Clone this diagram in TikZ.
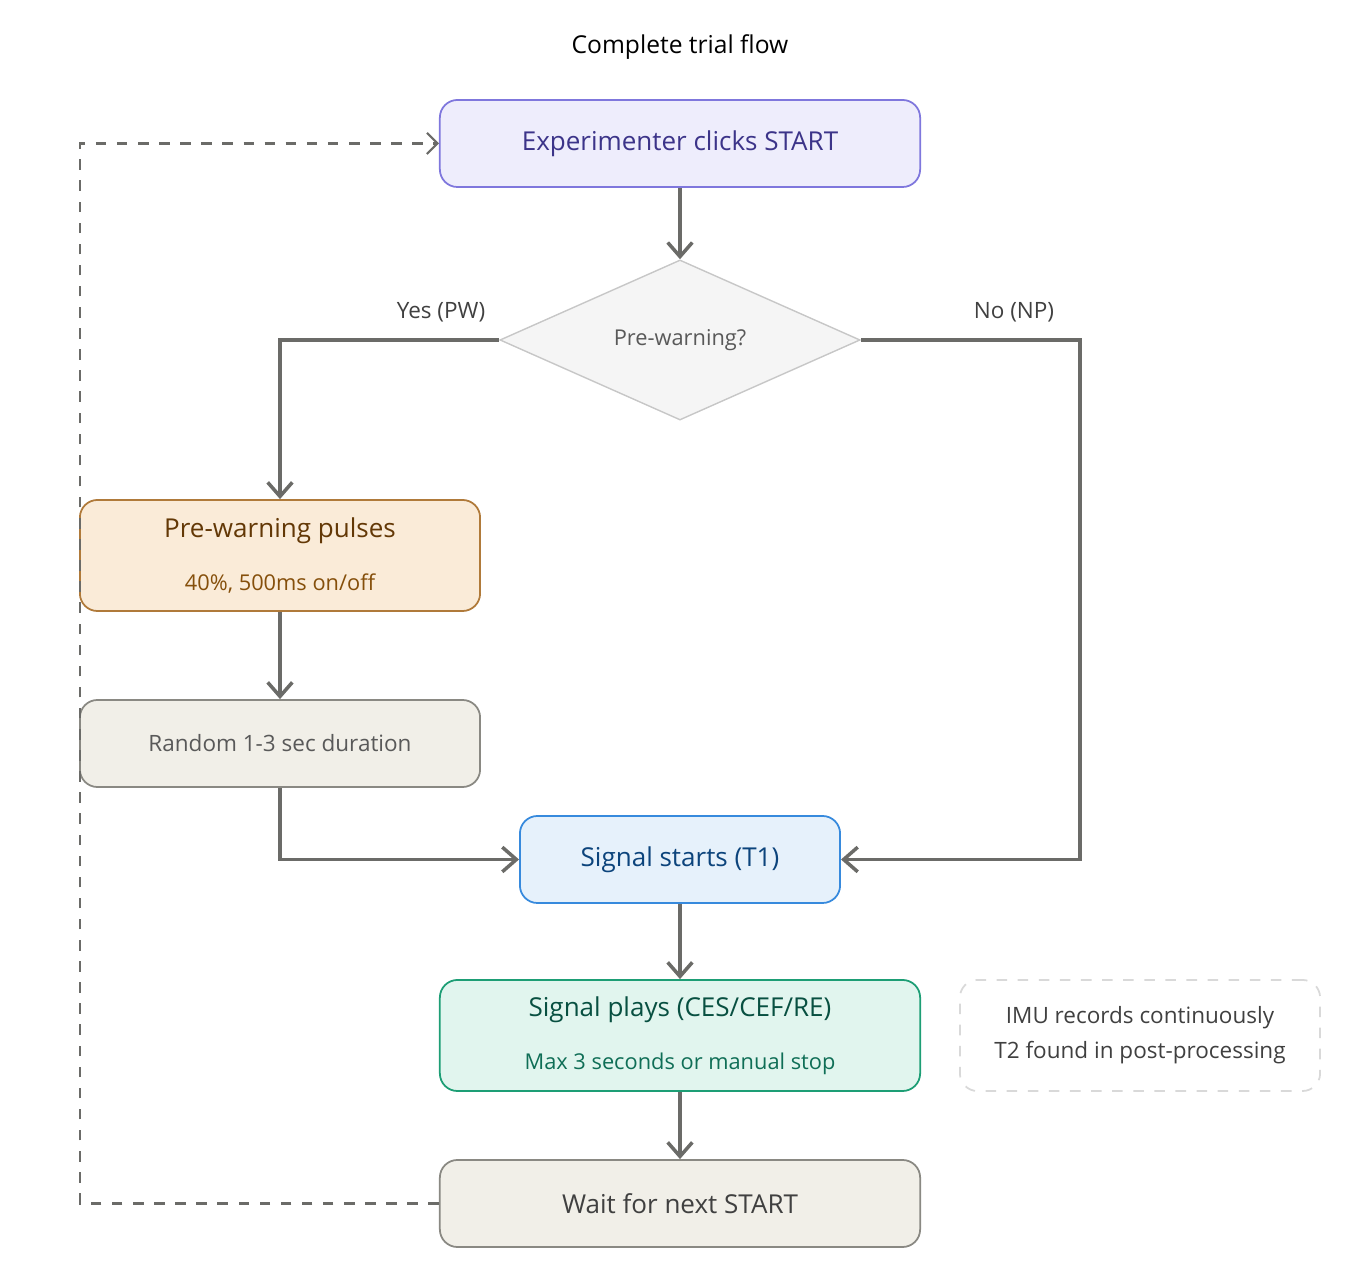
\documentclass[tikz,border=0pt]{standalone}
\usepackage{fontspec}
\setmainfont{Open Sans}
\usetikzlibrary{shapes.geometric,arrows.meta}
\definecolor{edgegray}{HTML}{6B6B68}
\definecolor{startfill}{HTML}{EEEDFC}
\definecolor{startdraw}{HTML}{7F77DD}
\definecolor{starttext}{HTML}{3C3489}
\definecolor{pwfill}{HTML}{FAEBD8}
\definecolor{pwdraw}{HTML}{B07A3A}
\definecolor{pwtext}{HTML}{633806}
\definecolor{pwsub}{HTML}{854F0B}
\definecolor{greyfill}{HTML}{F1EFE8}
\definecolor{greydraw}{HTML}{8A8983}
\definecolor{sigfill}{HTML}{E6F1FB}
\definecolor{sigdraw}{HTML}{378ADD}
\definecolor{sigtext}{HTML}{0C447C}
\definecolor{playfill}{HTML}{E1F5EE}
\definecolor{playdraw}{HTML}{1D9E75}
\definecolor{playtext}{HTML}{085041}
\definecolor{playsub}{HTML}{0F6E56}
\tikzset{
  BoxStyle/.style = { rectangle, rounded corners=5pt, draw, line width=0.5pt,
                      align=center, inner sep=0pt },
  EdgeStyle/.style = { draw=edgegray, line width=1pt, -{Straight Barb[length=4pt,width=7pt]} },
  LoopStyle/.style = { draw=edgegray, line width=0.6pt, dashed, -{Straight Barb[length=3pt,width=6pt]} } }

\begin{document}
\begin{tikzpicture}[x=0.01cm,y=-0.01cm]
  \useasboundingbox (0,0) rectangle (1360,1268);
  \node (title) at (680,47) {\fontsize{7}{8}\selectfont Complete trial flow};

  \node[BoxStyle, fill=startfill, draw=startdraw, text=starttext,
        minimum width=4.8cm, minimum height=0.87cm, font=\fontsize{7.4}{9}\selectfont]
        (start) at (680,143.5) {Experimenter clicks START};
  \node[diamond, aspect=2.25, fill=black!4!white, draw=black!22, inner sep=0pt,
        minimum width=3.6cm, minimum height=1.6cm, text=black!65,
        font=\fontsize{6.2}{8}\selectfont] (pw) at (680,340) {Pre-warning?};
  \node[BoxStyle, fill=pwfill, draw=pwdraw, minimum width=4cm, minimum height=1.11cm]
        (pulses) at (280,555.5)
        {{\fontsize{7.4}{9}\selectfont\color{pwtext}Pre-warning pulses}\\[3pt]
         {\fontsize{6.2}{8}\selectfont\color{pwsub}40\%, 500ms on/off}};
  \node[BoxStyle, fill=greyfill, draw=greydraw, text=black!65, minimum width=4cm,
        minimum height=0.87cm, font=\fontsize{6.4}{8}\selectfont]
        (random) at (280,743.5) {Random 1-3 sec duration};
  \node[BoxStyle, fill=sigfill, draw=sigdraw, text=sigtext, minimum width=3.2cm,
        minimum height=0.87cm, font=\fontsize{7.4}{9}\selectfont]
        (signal) at (680,859.5) {Signal starts (T1)};
  \node[BoxStyle, fill=playfill, draw=playdraw, minimum width=4.8cm, minimum height=1.11cm]
        (plays) at (680,1035.5)
        {{\fontsize{7.4}{9}\selectfont\color{playtext}Signal plays (CES/CEF/RE)}\\[3pt]
         {\fontsize{6.2}{8}\selectfont\color{playsub}Max 3 seconds or manual stop}};
  \node[BoxStyle, draw=black!15, dashed, text=black!75, minimum width=3.6cm,
        minimum height=1.11cm, font=\fontsize{6.4}{8}\selectfont]
        (imu) at (1140,1035.5) {IMU records continuously\\[2pt]T2 found in post-processing};
  \node[BoxStyle, fill=greyfill, draw=greydraw, text=black!75, minimum width=4.8cm,
        minimum height=0.87cm, font=\fontsize{7.4}{9}\selectfont]
        (wait) at (680,1203.5) {Wait for next START};

  \node[text=black!75, font=\fontsize{6.4}{8}\selectfont] (yes) at (441,312) {Yes (PW)};
  \node[text=black!75, font=\fontsize{6.4}{8}\selectfont] (no) at (1014,312) {No (NP)};

  \draw[EdgeStyle] (start) -- (pw);
  \draw[EdgeStyle] (pw.west) -| (pulses.north);
  \draw[EdgeStyle] (pulses) -- (random);
  \draw[EdgeStyle] (random.south) |- (signal.west);
  \draw[EdgeStyle] (pw.east) -- (1080,340) |- (signal.east);
  \draw[EdgeStyle] (signal) -- (plays);
  \draw[EdgeStyle] (plays) -- (wait);
  \draw[LoopStyle] (wait.west) -- (80,1203.5) -- (80,143.5) -- (start.west);
\end{tikzpicture}
\end{document}
